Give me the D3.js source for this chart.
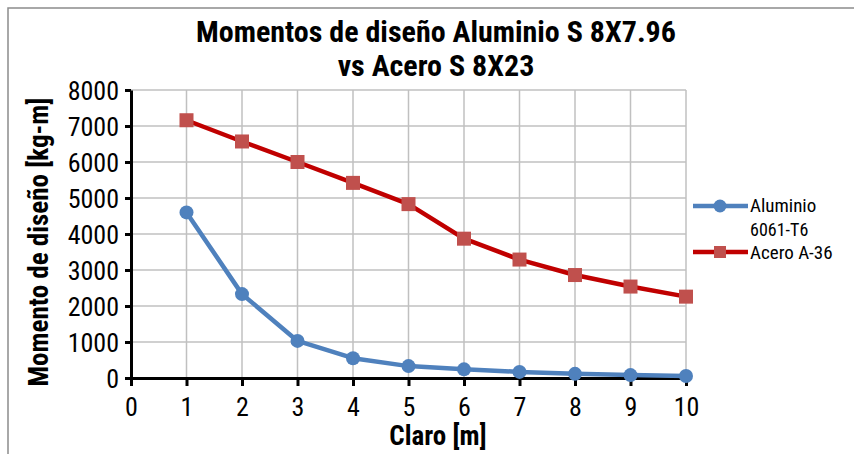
<!DOCTYPE html>
<html><head><meta charset="utf-8">
<script src="https://cdn.jsdelivr.net/npm/d3@7"></script>
<style>
body{margin:0;background:#fff;}
text{font-family:"Liberation Sans Narrow","Arial Narrow","Roboto Condensed",sans-serif;}
</style></head>
<body><svg id="c" width="854" height="454"></svg>
<script>
const claro = [1,2,3,4,5,6,7,8,9,10];
const aluminio = [4600,2330,1030,550,330,240,170,115,80,55];
const acero = [7160,6570,6000,5420,4830,3870,3290,2860,2540,2260];
const xTicks = [0,1,2,3,4,5,6,7,8,9,10];
const yTicks = [0,1000,2000,3000,4000,5000,6000,7000,8000];
const seriesNames = ["Aluminio 6061-T6","Acero A-36"];

const svg = d3.select("#c");
svg.append("rect").attr("x",8).attr("y",8).attr("width",900).attr("height",500)
  .attr("fill","#fff").attr("stroke","#8c8c8c").attr("stroke-width",1.5);

const x = d3.scaleLinear().domain([0,10]).range([131,686]);
const y = d3.scaleLinear().domain([0,8000]).range([378,90]);

// grid
svg.append("g").selectAll("line.v").data(xTicks.slice(1)).join("line")
  .attr("x1",d=>x(d)).attr("x2",d=>x(d)).attr("y1",y(8000)).attr("y2",y(0))
  .attr("stroke","#c0c0c0").attr("stroke-width",1.5);
svg.append("g").selectAll("line.h").data(yTicks.slice(1)).join("line")
  .attr("x1",x(0)).attr("x2",x(10)).attr("y1",d=>y(d)).attr("y2",d=>y(d))
  .attr("stroke","#c0c0c0").attr("stroke-width",1.5);

// axes
const xa = svg.append("g").attr("transform",`translate(0,${y(0)})`)
  .call(d3.axisBottom(x).tickValues(xTicks).tickFormat(d3.format("d")).tickSize(8).tickSizeOuter(0).tickPadding(12));
const ya = svg.append("g").attr("transform",`translate(${x(0)},0)`)
  .call(d3.axisLeft(y).tickValues(yTicks).tickFormat(d3.format("d")).tickSize(6).tickSizeOuter(0).tickPadding(6));
[xa,ya].forEach(g=>{
  g.select(".domain").attr("stroke","#000").attr("stroke-width",3);
  g.selectAll(".tick line").attr("stroke","#000").attr("stroke-width",3);
  g.selectAll(".tick text").attr("fill","#000").style("font-size","26px");
});
ya.selectAll(".tick text").attr("dy","0.35em");

// lines
const line = d3.line().x((d,i)=>x(claro[i])).y(d=>y(d));
svg.append("path").datum(aluminio).attr("d",line).attr("fill","none")
  .attr("stroke","#4f81bd").attr("stroke-width",4.5).attr("stroke-linejoin","round");
svg.append("path").datum(acero).attr("d",line).attr("fill","none")
  .attr("stroke","#c00000").attr("stroke-width",4.5).attr("stroke-linejoin","round");
svg.append("g").selectAll("circle").data(aluminio).join("circle")
  .attr("cx",(d,i)=>x(claro[i])).attr("cy",d=>y(d)).attr("r",7).attr("fill","#4f81bd");
svg.append("g").selectAll("rect").data(acero).join("rect")
  .attr("x",(d,i)=>x(claro[i])-7).attr("y",d=>y(d)-7).attr("width",14).attr("height",14).attr("fill","#c0504d");

// legend
const lg = svg.append("g");
lg.append("line").attr("x1",693).attr("x2",748).attr("y1",206).attr("y2",206).attr("stroke","#4f81bd").attr("stroke-width",4.5);
lg.append("circle").attr("cx",720).attr("cy",206).attr("r",6.5).attr("fill","#4f81bd");
lg.append("text").attr("x",750).attr("y",212).style("font-size","19px").text("Aluminio");
lg.append("text").attr("x",750).attr("y",236).style("font-size","18px").text("6061-T6");
lg.append("line").attr("x1",693).attr("x2",748).attr("y1",252).attr("y2",252).attr("stroke","#c00000").attr("stroke-width",4.5);
lg.append("rect").attr("x",714).attr("y",246).attr("width",12).attr("height",12).attr("fill","#c0504d");
lg.append("text").attr("x",750).attr("y",259).style("font-size","19px").text("Acero A-36");

// titles
const t = svg.append("text").attr("x",436).attr("text-anchor","middle")
  .style("font-size","30px").style("font-weight","bold");
t.append("tspan").attr("x",436).attr("y",42).text("Momentos de diseño Aluminio S 8X7.96");
t.append("tspan").attr("x",436).attr("y",76).text("vs Acero S 8X23");
svg.append("text").attr("x",438).attr("y",445).attr("text-anchor","middle")
  .style("font-size","27px").style("font-weight","bold").text("Claro [m]");
svg.append("text").attr("transform","translate(48,242) rotate(-90)").attr("text-anchor","middle")
  .style("font-size","27px").style("font-weight","bold").text("Momento de diseño [kg-m]");
</script></body></html>
